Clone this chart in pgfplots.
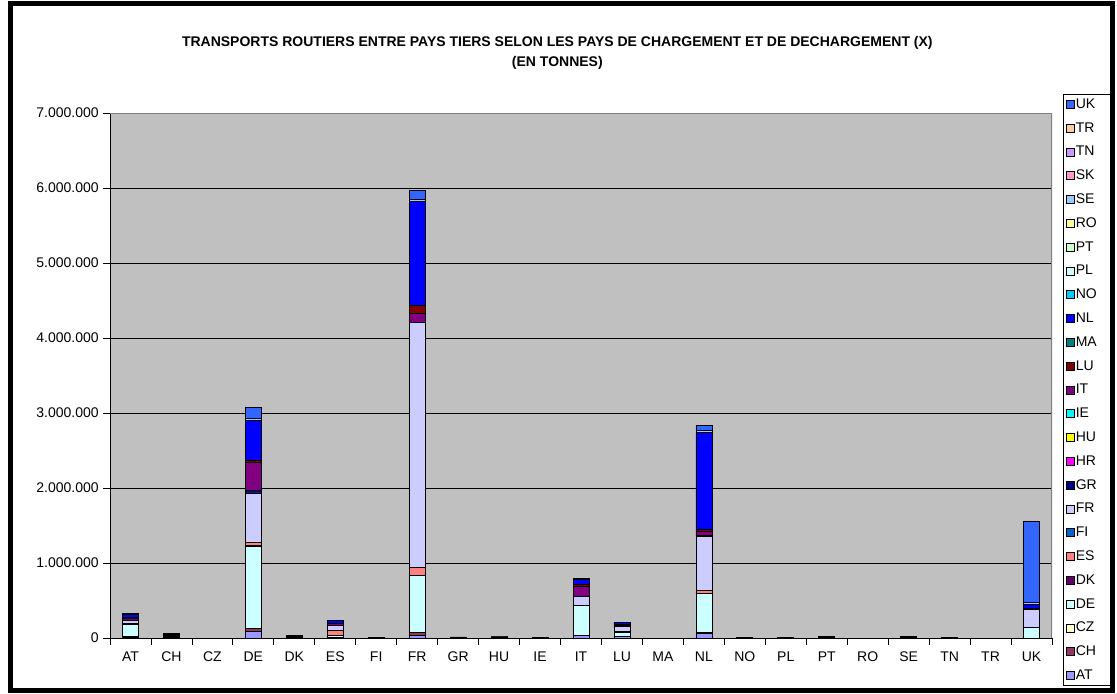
\documentclass[border=0pt]{standalone}
\usepackage{pgfplots}
\pgfplotsset{compat=1.18}
\usepackage{pgfplotstable}
\usepackage{fontspec}
\setmainfont{Liberation Sans}

% unloading countries, Excel 2003 palette
\definecolor{cAT}{HTML}{9999FF}
\definecolor{cCH}{HTML}{993366}
\definecolor{cCZ}{HTML}{FFFFCC}
\definecolor{cDE}{HTML}{CCFFFF}
\definecolor{cDK}{HTML}{660066}
\definecolor{cES}{HTML}{FF8080}
\definecolor{cFI}{HTML}{0066CC}
\definecolor{cFR}{HTML}{CCCCFF}
\definecolor{cGR}{HTML}{000080}
\definecolor{cHR}{HTML}{FF00FF}
\definecolor{cHU}{HTML}{FFFF00}
\definecolor{cIE}{HTML}{00FFFF}
\definecolor{cIT}{HTML}{800080}
\definecolor{cLU}{HTML}{800000}
\definecolor{cMA}{HTML}{008080}
\definecolor{cNL}{HTML}{0000FF}
\definecolor{cNO}{HTML}{00CCFF}
\definecolor{cPL}{HTML}{CCFFFF}
\definecolor{cPT}{HTML}{CCFFCC}
\definecolor{cRO}{HTML}{FFFF99}
\definecolor{cSE}{HTML}{99CCFF}
\definecolor{cSK}{HTML}{FF99CC}
\definecolor{cTN}{HTML}{CC99FF}
\definecolor{cTR}{HTML}{FFCC99}
\definecolor{cUK}{HTML}{3366FF}
\definecolor{plotbg}{HTML}{C0C0C0}

% rows: loading country, columns: unloading country (tonnes)
\pgfplotstableread{
x  AT    CH    CZ DE      DK    ES     FI FR      GR    HR HU IE IT     LU     MA NL      NO PL PT RO SE    SK TN TR UK
0  5000  20000 0  160000  0     10000  0  40000   0     0  0  0  30000  10000  0  40000   0  0  0  0  0     0  0  0  10000
1  10000 0     0  15000   10000 0      0  10000   5000  0  0  0  10000  0      0  0       0  0  0  0  0     0  0  0  0
2  0     0     0  0       0     0      0  0       0     0  0  0  0      0      0  0       0  0  0  0  0     0  0  0  0
3  90000 35000 0  1100000 10000 40000  0  660000  30000 0  0  0  380000 30000  0  530000  0  0  0  0  20000 0  0  0  150000
4  0     0     0  10000   0     0      0  10000   10000 0  0  0  0      0      0  0       0  0  0  0  0     0  0  0  0
5  10000 0     0  20000   0     70000  0  70000   0     0  0  0  20000  10000  0  30000   0  0  0  0  0     0  0  0  10000
6  0     0     0  5000    0     0      0  5000    0     0  0  0  0      0      0  0       0  0  0  0  0     0  0  0  0
7  40000 30000 0  770000  0     100000 0  3270000 0     0  0  0  120000 110000 0  1380000 0  0  0  0  30000 0  0  0  120000
8  0     0     0  5000    0     0      0  5000    0     0  0  0  5000   0      0  0       0  0  0  0  0     0  0  0  0
9  0     0     0  10000   0     0      0  5000    0     0  0  0  5000   0      0  0       0  0  0  0  0     0  0  0  0
10 0     0     0  0       0     0      0  5000    0     0  0  0  0      0      0  0       0  0  0  0  0     0  0  0  5000
11 30000 0     0  400000  0     10000  0  110000  0     0  0  0  140000 30000  0  60000   0  0  0  0  0     0  0  0  10000
12 20000 0     0  60000   0     10000  0  60000   0     0  0  0  20000  10000  0  30000   0  0  0  0  0     0  0  0  0
13 0     0     0  0       0     0      0  0       0     0  0  0  0      0      0  0       0  0  0  0  0     0  0  0  0
14 60000 10000 0  520000  10000 40000  0  720000  10000 0  0  0  50000  30000  0  1290000 0  0  0  0  30000 0  0  0  70000
15 0     0     0  5000    0     0      0  5000    0     0  0  0  0      0      0  0       0  0  0  0  0     0  0  0  0
16 0     0     0  5000    0     0      0  5000    0     0  0  0  0      0      0  0       0  0  0  0  0     0  0  0  0
17 0     0     0  10000   0     0      0  10000   0     0  0  0  0      0      0  0       0  0  0  0  0     0  0  0  0
18 0     0     0  0       0     0      0  0       0     0  0  0  0      0      0  0       0  0  0  0  0     0  0  0  0
19 0     0     0  10000   0     0      0  10000   0     0  0  0  0      0      0  0       0  0  0  0  0     0  0  0  0
20 0     0     0  5000    0     0      0  5000    0     0  0  0  0      0      0  0       0  0  0  0  0     0  0  0  0
21 0     0     0  0       0     0      0  0       0     0  0  0  0      0      0  0       0  0  0  0  0     0  0  0  0
22 0     0     0  140000  0     0      0  240000  0     0  0  0  10000  0      0  60000   0  0  0  0  30000 0  0  0  1080000
}\tonnes

\begin{document}
\begin{tikzpicture}
% page = 1117 x 693 px at 0.75pt per px
\path[use as bounding box] (0pt,0pt) rectangle (837.75pt,-519.75pt);
\draw[line width=3.75pt] (7.9pt,-2.3pt) rectangle (834.5pt,-517.5pt);
\node[font=\bfseries\fontsize{10.5}{15}\selectfont, align=center] at (418pt,-40pt)
  {TRANSPORTS ROUTIERS ENTRE PAYS TIERS SELON LES PAYS DE CHARGEMENT ET DE DECHARGEMENT (X)\\(EN TONNES)};
\begin{axis}[
  at={(82.5pt,-478.5pt)}, anchor=south west,
  scale only axis, width=706.5pt, height=393.75pt,
  ybar stacked, bar width=12pt,
  axis background/.style={fill=plotbg},
  axis lines*=left, axis line style={black, line width=0.6pt},
  xmin=-0.5, xmax=22.5, ymin=0, ymax=7000000,
  xtick={0,...,22},
  xticklabels={AT,CH,CZ,DE,DK,ES,FI,FR,GR,HU,IE,IT,LU,MA,NL,NO,PL,PT,RO,SE,TN,TR,UK},
  major x tick style={draw=none},
  minor xtick={-0.5,0.5,...,22.5},
  minor tick length=5pt,
  ytick={0,1000000,...,7000000},
  major tick length=5pt,
  tick align=outside,
  tick style={black, line width=0.6pt},
  ymajorgrids, major grid style={black, line width=0.5pt},
  scaled y ticks=false,
  yticklabel style={/pgf/number format/.cd, fixed, precision=0, 1000 sep={.}, assume math mode=true},
  ticklabel style={font=\fontsize{10.5}{12}\selectfont},
  xticklabel style={yshift=-2pt},
  every axis plot/.append style={draw=black, line width=0.5pt},
  reverse legend,
  legend cell align=left,
  legend image code/.code={\draw[#1, draw=black, line width=0.4pt] (0pt,-3pt) rectangle (6pt,3pt);},
  legend style={at={(1.0117,1.0362)}, anchor=north west, draw=black, fill=white,
    font=\fontsize{10.5}{12}\selectfont, row sep=6.85pt, inner sep=2pt,
    nodes={inner sep=1pt, text height=7.5pt, text depth=1.5pt}},
]
\pgfplotsinvokeforeach{AT,CH,CZ,DE,DK,ES,FI,FR,GR,HR,HU,IE,IT,LU,MA,NL,NO,PL,PT,RO,SE,SK,TN,TR,UK}{
  \addplot[fill=c#1] table[x=x, y=#1] {\tonnes};
  \addlegendentry{#1\hspace*{7pt}}
}
\draw[gray, line width=1.5pt] (rel axis cs:0,1) -- (rel axis cs:1,1) -- (rel axis cs:1,0);
\end{axis}
\end{tikzpicture}
\end{document}
